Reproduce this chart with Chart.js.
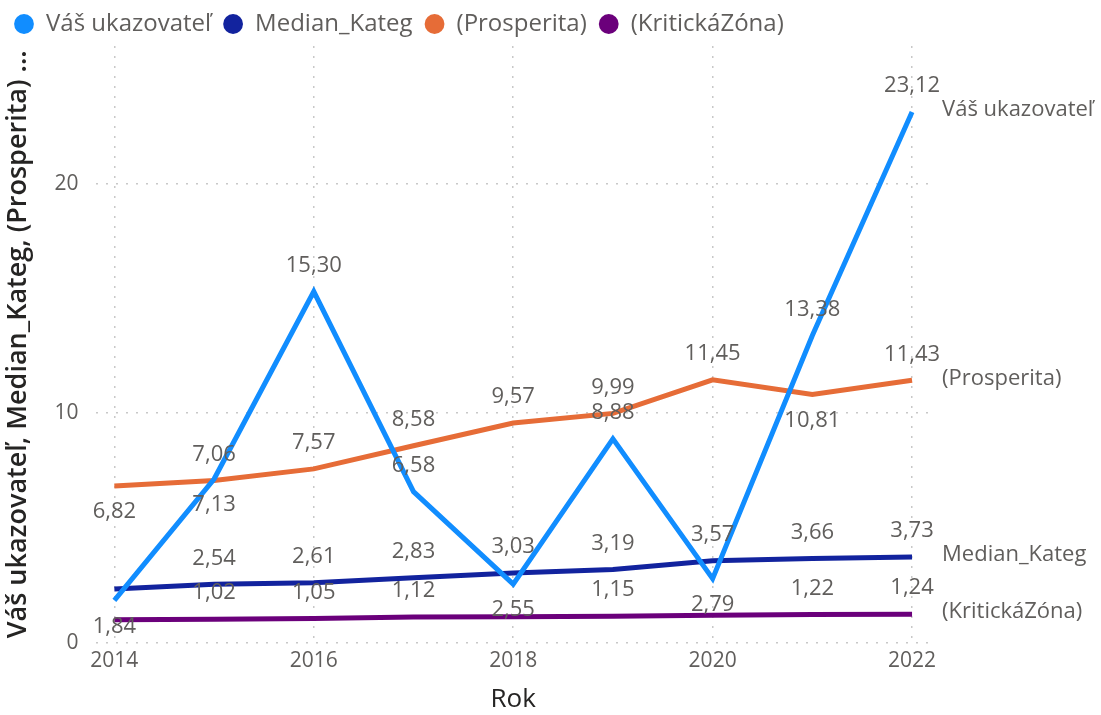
<!DOCTYPE html>
<html>
<head>
<meta charset="utf-8">
<script src="https://cdn.jsdelivr.net/npm/chart.js@4.4.1/dist/chart.umd.min.js"></script>
<style>
  html, body { margin: 0; padding: 0; background: #fff; }
  #wrap { width: 1101px; height: 715px; }
</style>
</head>
<body>
<div id="wrap"><canvas id="myChart"></canvas></div>
<script>
// data
const years = [2014, 2015, 2016, 2017, 2018, 2019, 2020, 2021, 2022];
const vasUkazovatel = [1.84, 7.13, 15.30, 6.58, 2.55, 8.88, 2.79, 13.38, 23.12];
const medianKateg = [2.34, 2.54, 2.61, 2.83, 3.03, 3.19, 3.57, 3.66, 3.73];
const prosperita = [6.82, 7.06, 7.57, 8.58, 9.57, 9.99, 11.45, 10.81, 11.43];
const kritickaZona = [1.00, 1.02, 1.05, 1.12, 1.13, 1.15, 1.19, 1.22, 1.24];
const yTicks = [0, 10, 20];
const xTicks = [2014, 2016, 2018, 2020, 2022];

// where each value label sits: a = above, b = below, null = not shown
const vasSide = ['b', 'b', 'a', 'a', 'b', 'a', 'b', 'a', 'a'];
const medianSide = [null, 'a', 'a', 'a', 'a', 'a', 'a', 'a', 'a'];
const prospSide = ['b', 'a', 'a', 'a', 'a', 'a', 'a', 'b', 'a'];
const kritSide = [null, 'a', 'a', 'a', null, 'a', null, 'a', 'a'];

const FONT = "'Segoe UI', 'Open Sans', sans-serif";
const labelGray = '#605E5C';

function pts(vals) {
  return vals.map((v, i) => ({ x: years[i], y: v }));
}

function line(label, vals, color, sides) {
  return {
    label: label,
    data: pts(vals),
    borderColor: color,
    backgroundColor: color,
    pointBackgroundColor: color,
    pointBorderWidth: 0,
    pointRadius: 0,
    pointHoverRadius: 0,
    borderWidth: 5,
    tension: 0,
    sides: sides
  };
}

// value labels + series names at the right end
const labelsPlugin = {
  id: 'valueLabels',
  afterDatasetsDraw(chart) {
    const ctx = chart.ctx;
    ctx.save();
    ctx.font = '22px ' + FONT;
    ctx.fillStyle = labelGray;
    ctx.textBaseline = 'middle';
    chart.data.datasets.forEach((ds, di) => {
      const meta = chart.getDatasetMeta(di);
      meta.data.forEach((p, i) => {
        const side = ds.sides[i];
        if (!side) return;
        const txt = ds.data[i].y.toFixed(2).replace('.', ',');
        ctx.textAlign = 'center';
        ctx.fillText(txt, p.x, side === 'a' ? p.y - 26 : p.y + 26);
      });
      const last = meta.data[meta.data.length - 1];
      ctx.textAlign = 'left';
      ctx.fillText(ds.label, last.x + 30, last.y - 2);
    });
    ctx.restore();
  }
};

const data = {
  datasets: [
    line('Váš ukazovateľ', vasUkazovatel, '#118DFF', vasSide),
    line('Median_Kateg', medianKateg, '#12239E', medianSide),
    line('(Prosperita)', prosperita, '#E66C37', prospSide),
    line('(KritickáZóna)', kritickaZona, '#6B007B', kritSide)
  ]
};

const config = {
  type: 'line',
  data,
  options: {
    responsive: true,
    maintainAspectRatio: false,
    animation: false,
    layout: { padding: { left: 2, right: 171, top: 0, bottom: 0 } },
    plugins: {
      tooltip: { enabled: false },
      legend: {
        position: 'top',
        align: 'start',
        labels: {
          usePointStyle: true,
          pointStyle: 'circle',
          boxHeight: 14,
          boxWidth: 20,
          padding: 12,
          color: labelGray,
          font: { family: FONT, size: 24 }
        }
      }
    },
    scales: {
      x: {
        type: 'linear',
        min: 2013.82,
        max: 2022.18,
        border: { display: false, dash: [2, 8] },
        afterBuildTicks: axis => { axis.ticks = xTicks.map(v => ({ value: v })); },
        ticks: {
          color: labelGray,
          font: { family: FONT, size: 21 },
          padding: 6,
          callback: v => String(v)
        },
        grid: {
          color: '#C8C8C8',
          lineWidth: 1.5,
          drawTicks: false
        },
        title: {
          display: true,
          text: 'Rok',
          color: '#252423',
          font: { family: FONT, size: 26 },
          padding: { top: 4, bottom: 0 }
        }
      },
      y: {
        min: 0,
        max: 26,
        border: { display: false, dash: [2, 8] },
        afterBuildTicks: axis => { axis.ticks = yTicks.map(v => ({ value: v })); },
        ticks: {
          color: labelGray,
          font: { family: FONT, size: 21 },
          padding: 18
        },
        grid: {
          color: '#C8C8C8',
          lineWidth: 1.5,
          drawTicks: false
        },
        title: {
          display: true,
          text: 'Váš ukazovateľ, Median_Kateg, (Prosperita) ...',
          color: '#252423',
          font: { family: FONT, size: 27, weight: '600' },
          padding: { top: 0, bottom: 2 }
        }
      }
    }
  },
  plugins: [labelsPlugin]
};

const myChart = new Chart(document.getElementById('myChart'), config);
</script>
</body>
</html>
